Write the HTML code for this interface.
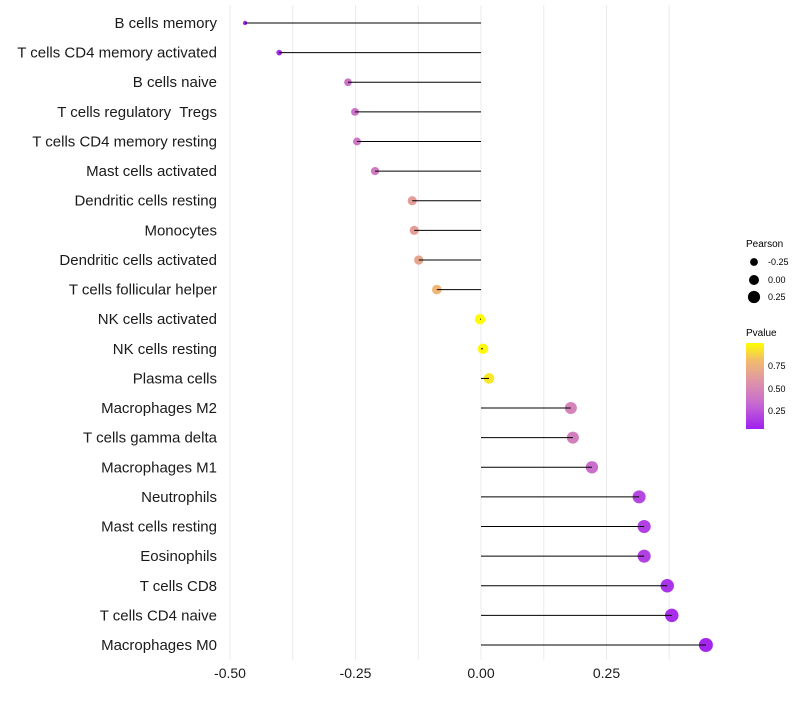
<!DOCTYPE html>
<html><head><meta charset="utf-8"><style>
body{margin:0;background:#fff;font-family:"Liberation Sans",sans-serif}
text{white-space:pre}
</style></head><body>
<svg id="chart" width="800" height="700" xmlns="http://www.w3.org/2000/svg" font-family="Liberation Sans, sans-serif" xml:space="preserve">
<defs><linearGradient id="pg" x1="0" y1="1" x2="0" y2="0">
<stop offset="0" stop-color="#a020f0"/><stop offset="0.3" stop-color="#c76bd0"/><stop offset="0.55" stop-color="#dd94a8"/><stop offset="0.8" stop-color="#f2bc6c"/><stop offset="1" stop-color="#ffff00"/></linearGradient></defs>
<g id="grid"></g><g id="marks"></g><g id="labels"></g><g id="xticks"></g>
<g font-size="9">
<text x="746" y="247" font-size="10">Pearson</text>
<circle cx="754" cy="262" r="3.9"/><text x="768" y="265">-0.25</text>
<circle cx="754" cy="280" r="5"/><text x="768" y="283">0.00</text>
<circle cx="754" cy="297" r="6.1"/><text x="768" y="300">0.25</text>
</g>
<g font-size="9">
<text x="746" y="336" font-size="10">Pvalue</text>
<rect x="746" y="343" width="18" height="86" fill="url(#pg)"/>
<text x="768" y="369">0.75</text><text x="768" y="392">0.50</text><text x="768" y="414">0.25</text>
</g>
</svg>
<script>
const categories=["B cells memory","T cells CD4 memory activated","B cells naive","T cells regulatory  Tregs","T cells CD4 memory resting","Mast cells activated","Dendritic cells resting","Monocytes","Dendritic cells activated","T cells follicular helper","NK cells activated","NK cells resting","Plasma cells","Macrophages M2","T cells gamma delta","Macrophages M1","Neutrophils","Mast cells resting","Eosinophils","T cells CD8","T cells CD4 naive","Macrophages M0"];
const pearson=[-0.470,-0.402,-0.265,-0.251,-0.247,-0.211,-0.137,-0.133,-0.124,-0.088,-0.002,0.004,0.016,0.179,0.183,0.221,0.315,0.325,0.325,0.371,0.380,0.448];
const pvalue=[0.02,0.05,0.35,0.35,0.37,0.40,0.62,0.62,0.66,0.76,0.99,0.98,0.93,0.45,0.43,0.32,0.16,0.13,0.13,0.08,0.06,0.02];
const xTicks=[-0.5,-0.25,0,0.25];
const xTickLabels=["-0.50","-0.25","0.00","0.25"];
const NS="http://www.w3.org/2000/svg";
const x=v=>481+v*502;
const y=i=>23+i*(622/(categories.length-1));
const rad=p=>Math.sqrt(Math.max(1,27.4+48.1*p));
function col(p){const st=[[0,[160,32,240]],[0.3,[199,107,208]],[0.55,[221,148,168]],[0.8,[242,188,108]],[1,[255,255,0]]];
for(let k=1;k<st.length;k++){if(p<=st[k][0]){const a=st[k-1],b=st[k],t=(p-a[0])/(b[0]-a[0]);return "rgb("+a[1].map((c,j)=>Math.round(c+(b[1][j]-c)*t)).join(",")+")";}}return "rgb(255,255,0)";}
function mk(t,a,parent){const e=document.createElementNS(NS,t);for(const k in a)e.setAttribute(k,a[k]);document.getElementById(parent).appendChild(e);return e;}
for(let v=-0.5;v<=0.38;v+=0.125){const g=mk("line",{x1:x(v),x2:x(v),y1:5,y2:660,stroke:"#ebebeb","stroke-width":1},"grid");

}
categories.forEach((c,i)=>{
const cy=y(i);
const pt=mk("circle",{cx:x(pearson[i]),cy:cy,r:rad(pearson[i]),fill:col(pvalue[i])},"marks");


const ln=mk("line",{x1:x(0),x2:x(pearson[i]),y1:cy,y2:cy,stroke:"#000","stroke-width":1},"marks");


const t=mk("text",{x:217,y:cy+5,"text-anchor":"end","font-size":15,fill:"#1a1a1a"},"labels");
t.textContent=c;


});
xTicks.forEach((v,i)=>{const t=mk("text",{x:x(v),y:678,"text-anchor":"middle","font-size":14,fill:"#1a1a1a"},"xticks");
t.textContent=xTickLabels[i];

});
</script>
</body></html>
